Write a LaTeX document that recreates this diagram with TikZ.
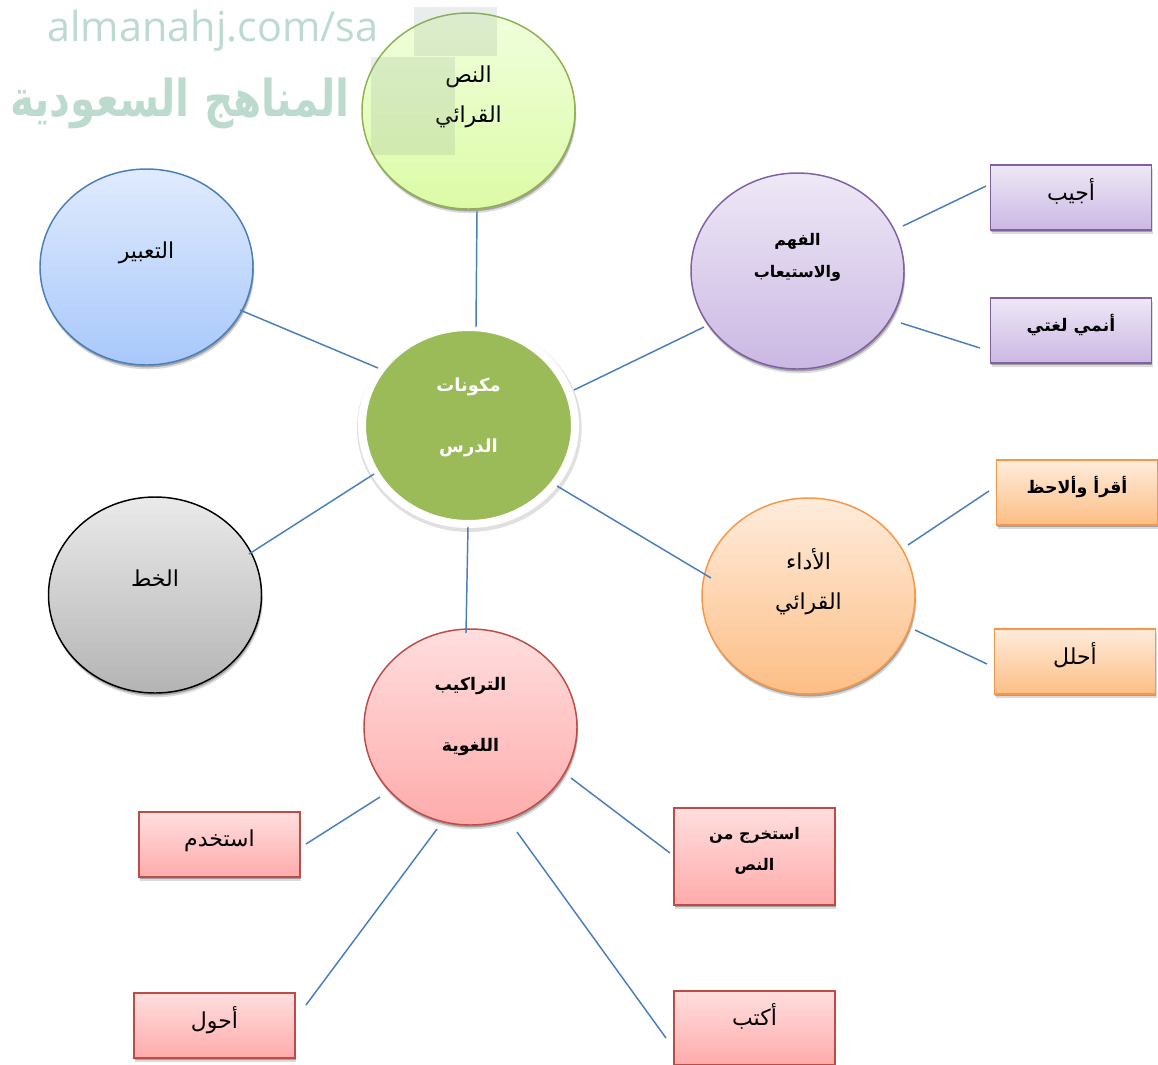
\documentclass[tikz,border=0pt]{standalone}
\usepackage{fontspec}
\usetikzlibrary{shapes.geometric,shadows}
\TeXXeTstate=1
\newfontfamily\arabicfont[Script=Arabic]{DejaVu Sans}
\newfontfamily\wmfont{Open Sans}
\newcommand{\ar}[1]{\beginR #1\endR}
\definecolor{lnk}{HTML}{4A7EBB}
\definecolor{wm}{HTML}{BCDACD}
\definecolor{grline}{HTML}{8FB04F}\definecolor{grtop}{HTML}{F0FFDD}\definecolor{grbot}{HTML}{DCFBA6}
\definecolor{blline}{HTML}{4A7EBB}\definecolor{bltop}{HTML}{E0EBFD}\definecolor{blbot}{HTML}{A8C8FB}
\definecolor{puline}{HTML}{7F60A3}\definecolor{putop}{HTML}{EEE8F6}\definecolor{pubot}{HTML}{CBB8E3}
\definecolor{orline}{HTML}{F79646}\definecolor{ortop}{HTML}{FEECDC}\definecolor{orbot}{HTML}{FDBE85}
\definecolor{reline}{HTML}{BE4B48}\definecolor{retop}{HTML}{FFDEDE}\definecolor{rebot}{HTML}{FFABAB}
\definecolor{gytop}{HTML}{EAEAEA}\definecolor{gybot}{HTML}{B4B4B4}
\definecolor{corefill}{HTML}{9BBB59}
\tikzset{
  arfont/.style={font=\arabicfont\fontsize{16.5}{30}\selectfont},
  arbold/.style n args={2}{font=\arabicfont\bfseries\fontsize{#1}{#2}\selectfont},
  soft/.style={general shadow={shadow xshift=1pt,shadow yshift=-3.2pt,opacity=.14,fill=black},
    general shadow={shadow xshift=.6pt,shadow yshift=-1.8pt,opacity=.26,fill=black}},
  bubble/.style n args={3}{ellipse,draw=#1,line width=1.1pt,top color=#2,bottom color=#3,
    minimum width=213*0.75pt,minimum height=196*0.75pt,inner sep=0pt,align=center,soft},
  tag/.style n args={3}{rectangle,draw=#1,line width=1.3pt,top color=#2,bottom color=#3,
    minimum width=161*0.75pt,inner sep=0pt,align=center,soft},
  link/.style={draw=lnk,line width=1.1pt},
  stain/.style={fill=wm!70!black,opacity=.18},
}
\begin{document}
\begin{tikzpicture}[x=0.75pt,y=-0.75pt]
\path[use as bounding box] (0,0) rectangle (1158,1065);

% watermark
\node[font=\wmfont\fontsize{31}{34}\selectfont,text=wm,inner sep=0pt] (wm1) at (213,31) {almanahj.com/sa};
\node[font=\arabicfont\bfseries\fontsize{30.5}{34}\selectfont,text=wm,inner sep=0pt,yscale=1.25] (wm2) at (180,103) {\ar{المناهج السعودية}};

% bubbles
\node[bubble={grline}{grtop}{grbot},arfont,text depth=25pt] (text) at (468.5,111) {\ar{النص}\\\ar{القرائي}};
\fill[stain] (414,7) rectangle (497,56);
\fill[stain] (371,57) rectangle (455,155);
\node[bubble={blline}{bltop}{blbot},arfont,text depth=26pt] (express) at (146.5,267) {\ar{التعبير}};
\node[bubble={puline}{putop}{pubot},arbold={12}{24},text depth=23pt] (comp) at (797.5,271) {\ar{الفهم}\\\ar{والاستيعاب}};
\node[bubble={orline}{ortop}{orbot},arfont,text depth=25pt] (perf) at (808.5,596) {\ar{الأداء}\\\ar{القرائي}};
\node[bubble={black}{gytop}{gybot},arfont,text depth=26pt] (hand) at (155,595) {\ar{الخط}};
\node[bubble={reline}{retop}{rebot},arbold={13}{46},text depth=19pt] (gram) at (470.5,727) {\ar{التراكيب}\\\ar{اللغوية}};

% centre
\node[ellipse,draw=white,line width=6pt,fill=corefill,minimum width=213*0.75pt,minimum height=197*0.75pt,
  inner sep=0pt,align=center,text=white,arbold={13.5}{46},text depth=16pt,
  general shadow={shadow scale=1.055,shadow xshift=.6pt,shadow yshift=-1.8pt,opacity=.12,fill=black}] (core) at (468.5,425.5) {\ar{مكونات}\\\ar{الدرس}};

% boxes
\node[tag={puline}{putop}{pubot},minimum height=65*0.75pt,arfont,text depth=12pt] (b1) at (1071,197.5) {\ar{أجيب}};
\node[tag={puline}{putop}{pubot},minimum height=65*0.75pt,arbold={13}{16},text depth=12pt] (b2) at (1071,330.5) {\ar{أنمي لغتي}};
\node[tag={orline}{ortop}{orbot},minimum height=65*0.75pt,arbold={13}{16},text depth=12pt] (b3) at (1077,492.5) {\ar{أقرأ وألاحظ}};
\node[tag={orline}{ortop}{orbot},minimum height=65*0.75pt,arfont,text depth=12pt] (b4) at (1075,661.5) {\ar{أحلل}};
\node[tag={reline}{retop}{rebot},minimum height=97*0.75pt,arbold={12}{23},text depth=11pt] (b5) at (754.5,856.5) {\ar{استخرج من}\\\ar{النص}};
\node[tag={reline}{retop}{rebot},minimum height=74*0.75pt,arfont,text depth=19.5pt] (b6) at (754.5,1028) {\ar{أكتب}};
\node[tag={reline}{retop}{rebot},minimum height=65*0.75pt,arfont,text depth=9pt] (b7) at (219.5,844.5) {\ar{استخدم}};
\node[tag={reline}{retop}{rebot},minimum height=65*0.75pt,arfont,text depth=12pt] (b8) at (214.5,1025.5) {\ar{أحول}};

% connector end points
\foreach \n/\x/\y in {a1/476/327,a2/477/211,c1/378/368,c2/240/310,d1/374/474,d2/249/554,e1/468/527,e2/466/633,
  f1/557/486,f2/711/578,g1/574/390,g2/704/327,h1/903/226,h2/986/186,i1/901/323,i2/980/348,
  j1/908/545,j2/989/491,k1/915/630,k2/987/664,l1/571/778,l2/670/853,m1/517/832,m2/666/1038,
  n1/437/829,n2/306/1005,o1/380/797,o2/306/844}
  \coordinate (\n) at (\x,\y);
\foreach \p/\q in {a1/a2,c1/c2,d1/d2,e1/e2,f1/f2,g1/g2,h1/h2,i1/i2,j1/j2,k1/k2,l1/l2,m1/m2,n1/n2,o1/o2}
  \draw[link] (\p) -- (\q);
\end{tikzpicture}
\end{document}
